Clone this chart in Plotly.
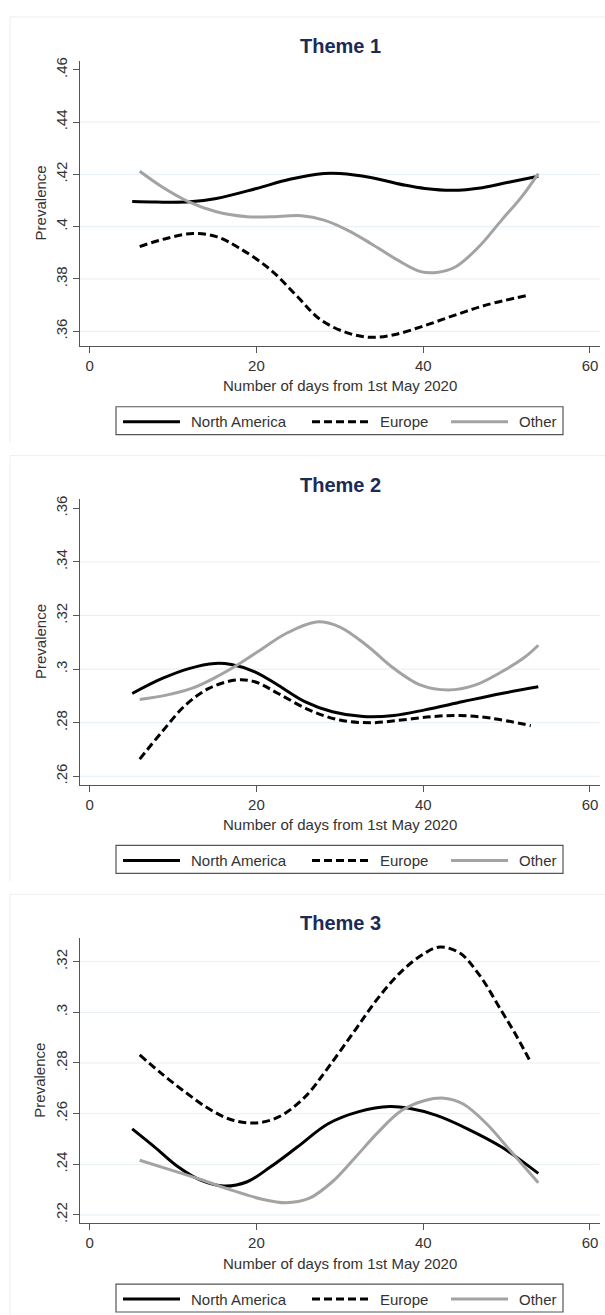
import plotly.graph_objects as go

# ---------------- data ----------------
themes = ["Theme 1", "Theme 2", "Theme 3"]
series_names = ["North America", "Europe", "Other"]

# Theme 1
t1_na_x = [5.1, 8.0, 12.0, 15.2, 20.0, 24.0, 28.1, 30.0, 33.7, 37.9, 40.2, 43.4, 47.1, 50.4, 53.8]
t1_na_y = [.4096, .4094, .4095, .4108, .4146, .4181, .4203, .4203, .4188, .4158, .4146, .4139, .4149, .4171, .4193]
t1_eu_x = [6.0, 9.2, 12.4, 15.2, 18.0, 21.7, 24.9, 27.7, 30.9, 33.7, 36.5, 40.2, 43.9, 47.6, 52.5]
t1_eu_y = [.3924, .3955, .3974, .3962, .3917, .3835, .3733, .3644, .3594, .3577, .3587, .3622, .3663, .3701, .3737]
t1_ot_x = [6.0, 8.7, 11.9, 15.2, 18.9, 21.7, 25.4, 28.1, 30.9, 33.7, 36.9, 39.7, 41.6, 43.9, 46.7, 49.4, 51.8, 53.8]
t1_ot_y = [.4212, .4152, .4095, .4057, .4038, .4038, .4042, .4025, .3987, .3936, .3873, .3828, .3825, .3847, .3924, .4025, .4114, .4203]

# Theme 2
t2_na_x = [5.1, 8.7, 11.9, 15.0, 17.0, 19.8, 22.6, 25.8, 29.1, 32.8, 36.5, 40.2, 44.8, 49.4, 53.8]
t2_na_y = [.2909, .2965, .3002, .3021, .3017, .2990, .2940, .2879, .2841, .2823, .2827, .2848, .2879, .2909, .2934]
t2_eu_x = [6.0, 8.7, 11.5, 14.3, 17.5, 19.8, 22.6, 26.3, 30.0, 33.7, 37.4, 41.1, 44.4, 48.1, 52.9]
t2_eu_y = [.2664, .2767, .2866, .2928, .2959, .2953, .2909, .2848, .2810, .2800, .2810, .2823, .2827, .2817, .2789]
t2_ot_x = [6.0, 9.2, 12.4, 15.2, 18.0, 20.7, 23.5, 27.2, 30.0, 33.2, 36.5, 39.7, 43.0, 46.2, 49.4, 52.2, 53.8]
t2_ot_y = [.2887, .2903, .2930, .2971, .3021, .3076, .3132, .3176, .3157, .3089, .3002, .2940, .2922, .2940, .2990, .3045, .3089]

# Theme 3
t3_na_x = [5.1, 7.8, 10.6, 13.3, 16.1, 18.9, 21.7, 24.9, 28.6, 32.3, 36.0, 38.3, 41.6, 45.3, 49.4, 53.8]
t3_na_y = [.2540, .2468, .2390, .2337, .2314, .2331, .2390, .2468, .2560, .2608, .2628, .2621, .2593, .2540, .2468, .2364]
t3_eu_x = [6.0, 8.7, 11.5, 14.3, 17.0, 19.8, 22.6, 25.8, 28.6, 31.9, 34.6, 37.4, 40.2, 42.0, 44.4, 46.7, 49.4, 51.3, 52.9]
t3_eu_y = [.2832, .2756, .2684, .2619, .2576, .2563, .2586, .2665, .2782, .2933, .3057, .3162, .3234, .3258, .3234, .3149, .3005, .2900, .2802]
t3_ot_x = [6.0, 9.6, 13.3, 17.0, 20.7, 23.5, 26.3, 29.1, 31.9, 34.6, 37.4, 40.2, 42.5, 44.8, 47.6, 50.4, 53.8]
t3_ot_y = [.2416, .2379, .2340, .2298, .2262, .2248, .2265, .2331, .2429, .2527, .2612, .2652, .2661, .2638, .2560, .2455, .2327]

panel_data = [
    [(t1_na_x, t1_na_y), (t1_eu_x, t1_eu_y), (t1_ot_x, t1_ot_y)],
    [(t2_na_x, t2_na_y), (t2_eu_x, t2_eu_y), (t2_ot_x, t2_ot_y)],
    [(t3_na_x, t3_na_y), (t3_eu_x, t3_eu_y), (t3_ot_x, t3_ot_y)],
]

y_ticks = [
    [.36, .38, .40, .42, .44, .46],
    [.26, .28, .30, .32, .34, .36],
    [.22, .24, .26, .28, .30, .32],
]
y_ticktext = [
    [".36", ".38", ".4", ".42", ".44", ".46"],
    [".26", ".28", ".3", ".32", ".34", ".36"],
    [".22", ".24", ".26", ".28", ".3", ".32"],
]
# horizontal grid lines (none at the top tick of panels 1 & 2)
y_grid = [
    [.36, .38, .40, .42, .44],
    [.26, .28, .30, .32, .34],
    [.22, .24, .26, .28, .30, .32],
]
y_ranges = [[.3544, .4634], [.2569, .3633], [.2167, .3293]]
x_ticks = [0, 20, 40, 60]
x_range = [-1.16, 61.2]
x_title = "Number of days from 1st May 2020"
y_title = "Prevalence"

# ---------------- styling ----------------
W, H = 605, 1315
colors = ["black", "black", "#a3a3a3"]
dashes = ["solid", "8px,4px", "solid"]
LW = 3
offsets = [0, 440, 880]
FONT = "Arial, Liberation Sans, sans-serif"
TXT = "#333333"
AX = "#555555"

def px_x(x):
    return x / W

def px_y(y):
    return 1 - y / H

fig = go.Figure()
annotations = []
shapes = []

# legend layout (pixel positions of the sample lines & labels)
leg_samples = [(123, 180), (312, 368), (451, 508)]
leg_text_x = [189, 378, 517]

for k in range(3):
    o = offsets[k]
    sfx = "" if k == 0 else str(k + 1)
    for j, (xs, ys) in enumerate(panel_data[k]):
        fig.add_trace(go.Scatter(
            x=xs, y=ys, mode="lines",
            line=dict(shape="spline", smoothing=1.0, color=colors[j], width=LW, dash=dashes[j]),
            name=series_names[j], xaxis="x" + sfx, yaxis="y" + sfx, showlegend=False,
        ))
    xd = [px_x(80), px_x(600)]
    yd = [px_y(o + 343), px_y(o + 57)]
    fig.update_layout(**{
        "xaxis" + sfx: dict(
            domain=xd, range=x_range, tickvals=x_ticks, ticks="outside", ticklen=6,
            tickcolor=AX, showline=True, linecolor=AX, linewidth=1.2,
            showgrid=False, zeroline=False, anchor="y" + sfx,
            tickfont=dict(family=FONT, size=15, color=TXT),
        ),
        "yaxis" + sfx: dict(
            domain=yd, range=y_ranges[k], tickvals=y_ticks[k], ticktext=y_ticktext[k],
            tickangle=-90, ticks="outside", ticklen=6, tickcolor=AX,
            showline=True, linecolor=AX, linewidth=1.2,
            showgrid=False, zeroline=False,
            anchor="x" + sfx,
            tickfont=dict(family=FONT, size=15, color=TXT),
        ),
    })
    for g in y_grid[k]:
        shapes.append(dict(
            type="line", xref="x" + sfx + " domain", yref="y" + sfx,
            x0=0, x1=1, y0=g, y1=g, line=dict(color="#e4eef4", width=1), layer="below",
        ))
    # titles
    annotations.append(dict(
        text="<b>" + themes[k] + "</b>", x=px_x(340), y=px_y(o + 42), xref="paper", yref="paper",
        showarrow=False, xanchor="center", yanchor="middle",
        font=dict(family=FONT, size=20, color="#1c2a58"),
    ))
    annotations.append(dict(
        text=x_title, x=px_x(340), y=px_y(o + 383), xref="paper", yref="paper",
        showarrow=False, xanchor="center", yanchor="middle",
        font=dict(family=FONT, size=15, color=TXT),
    ))
    annotations.append(dict(
        text=y_title, x=px_x(40), y=px_y(o + 200), xref="paper", yref="paper",
        showarrow=False, xanchor="center", yanchor="middle", textangle=-90,
        font=dict(family=FONT, size=15, color=TXT),
    ))
    # legend box
    shapes.append(dict(
        type="rect", xref="paper", yref="paper",
        x0=px_x(116), x1=px_x(563), y0=px_y(o + 432), y1=px_y(o + 404),
        line=dict(color=AX, width=1.2), fillcolor="white",
    ))
    for j in range(3):
        shapes.append(dict(
            type="line", xref="paper", yref="paper",
            x0=px_x(leg_samples[j][0]), x1=px_x(leg_samples[j][1]),
            y0=px_y(o + 419), y1=px_y(o + 419),
            line=dict(color=colors[j], width=LW, dash=dashes[j]),
        ))
        annotations.append(dict(
            text=series_names[j], x=px_x(leg_text_x[j]), y=px_y(o + 419), xref="paper", yref="paper",
            showarrow=False, xanchor="left", yanchor="middle",
            font=dict(family=FONT, size=15, color=TXT),
        ))
    # faint outer frame of each panel (top & left edges)
    shapes.append(dict(
        type="line", xref="paper", yref="paper",
        x0=px_x(10), x1=px_x(605), y0=px_y(o + 13), y1=px_y(o + 13),
        line=dict(color="#eeeeee", width=1), layer="below",
    ))
    shapes.append(dict(
        type="line", xref="paper", yref="paper",
        x0=px_x(10), x1=px_x(10), y0=px_y(o + 13), y1=px_y(min(o + 440, H)),
        line=dict(color="#eeeeee", width=1), layer="below",
    ))

fig.update_layout(
    width=W, height=H, margin=dict(l=0, r=0, t=0, b=0),
    paper_bgcolor="white", plot_bgcolor="white",
    annotations=annotations, shapes=shapes,
)

fig.write_html(
    "out.html",
    config={"displayModeBar": False},
    post_script="document.body.style.margin='0';document.body.style.overflow='hidden';",
)
